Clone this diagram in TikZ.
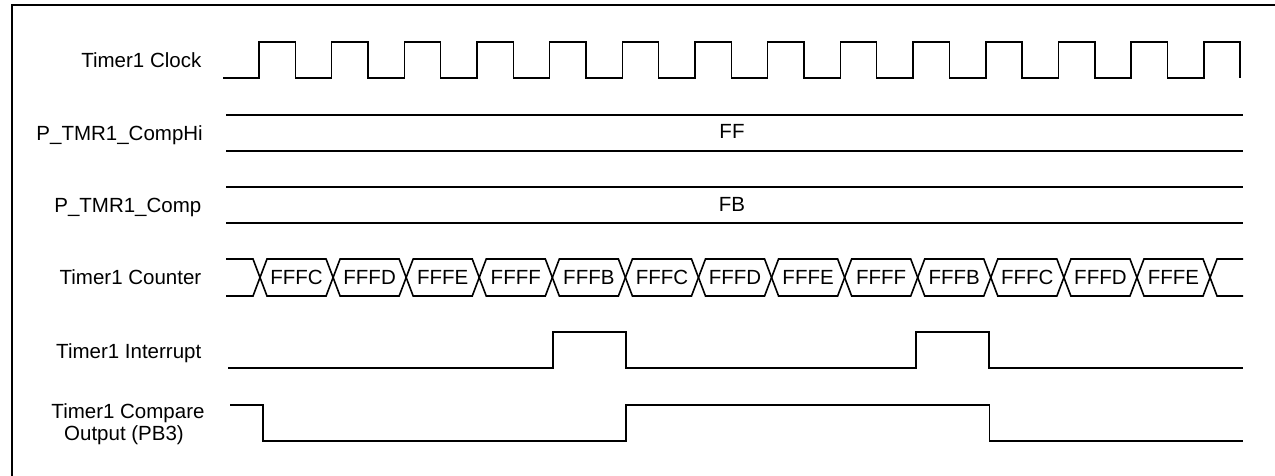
\documentclass[tikz,border=0pt]{standalone}
\usepackage{fontspec}
\setmainfont{Liberation Sans}
\begin{document}
\begin{tikzpicture}[x=1pt,y=-1pt,
  sig/.style={line width=1.6pt, line join=miter},
  lbl/.style={font=\fontsize{20.5}{24}\selectfont, inner sep=0pt, anchor=base east},
  lblc/.style={font=\fontsize{20.5}{24}\selectfont, inner sep=0pt, anchor=base},
  val/.style={font=\fontsize{20.5}{24}\selectfont, inner sep=0pt, anchor=base}]
\useasboundingbox (0,0) rectangle (1275,475);
\clip (0,0) rectangle (1275,475);
% frame
\draw[line width=1.8pt] (12,5) rectangle (1300,500);

% labels
\node[lbl] (lclk) at (201.5,67) {Timer1 Clock};
\node[lbl] (lhi)  at (203,140) {P\_TMR1\_CompHi};
\node[lbl] (lcmp) at (201.5,212) {P\_TMR1\_Comp};
\node[lbl] (lcnt) at (201.5,284.5) {Timer1 Counter};
\node[lbl] (lint) at (201.5,358) {Timer1 Interrupt};
\node[lblc] (lout1) at (128,418.7) {Timer1 Compare};
\node[lblc] (lout2) at (124,440.3) {Output (PB3)};

% clock
\draw[sig] (223,78) \foreach \k in {0,...,13} {
  -- ({259+72.67*\k},78) -- ({259+72.67*\k},42) -- ({295.33+72.67*\k},42) -- ({295.33+72.67*\k},78)};

% CompHi bus
\draw[sig] (226,115) -- (1243,115);
\draw[sig] (226,151) -- (1243,151);
\node[val] (vhi) at (732,138.7) {FF};

% Comp bus
\draw[sig] (226,187) -- (1243,187);
\draw[sig] (226,223) -- (1243,223);
\node[val] (vcmp) at (732,211) {FB};

% counter
\def\tp{259}\def\bt{296}\def\md{277.5}\def\hw{7}
\draw[sig] (226,\tp) -- ({260-\hw},\tp) -- (260,\md) -- ({260-\hw},\bt) -- (226,\bt);
\foreach \v [count=\j from 0] in {FFFC,FFFD,FFFE,FFFF,FFFB,FFFC,FFFD,FFFE,FFFF,FFFB,FFFC,FFFD,FFFE} {
  \pgfmathsetmacro{\ca}{260+73.08*\j}
  \pgfmathsetmacro{\cb}{260+73.08*(\j+1)}
  \draw[sig] (\ca,\md) -- ({\ca+\hw},\tp) -- ({\cb-\hw},\tp) -- (\cb,\md) -- ({\cb-\hw},\bt) -- ({\ca+\hw},\bt) -- cycle;
  \node[val] (cnt\j) at ({(\ca+\cb)/2},284.5) {\v};
}
\pgfmathsetmacro{\cl}{260+73.08*13}
\draw[sig] (1243,\tp) -- ({\cl+\hw},\tp) -- (\cl,\md) -- ({\cl+\hw},\bt) -- (1243,\bt);

% interrupt
\draw[sig] (228,368) -- (552.7,368) -- (552.7,332) -- (625.7,332) -- (625.7,368)
  -- (915.7,368) -- (915.7,332) -- (988.7,332) -- (988.7,368) -- (1243,368);

% compare output
\draw[sig] (230,405) -- (263,405) -- (263,441) -- (625.7,441) -- (625.7,405)
  -- (989.3,405) -- (989.3,441) -- (1243,441);
\end{tikzpicture}
\end{document}
